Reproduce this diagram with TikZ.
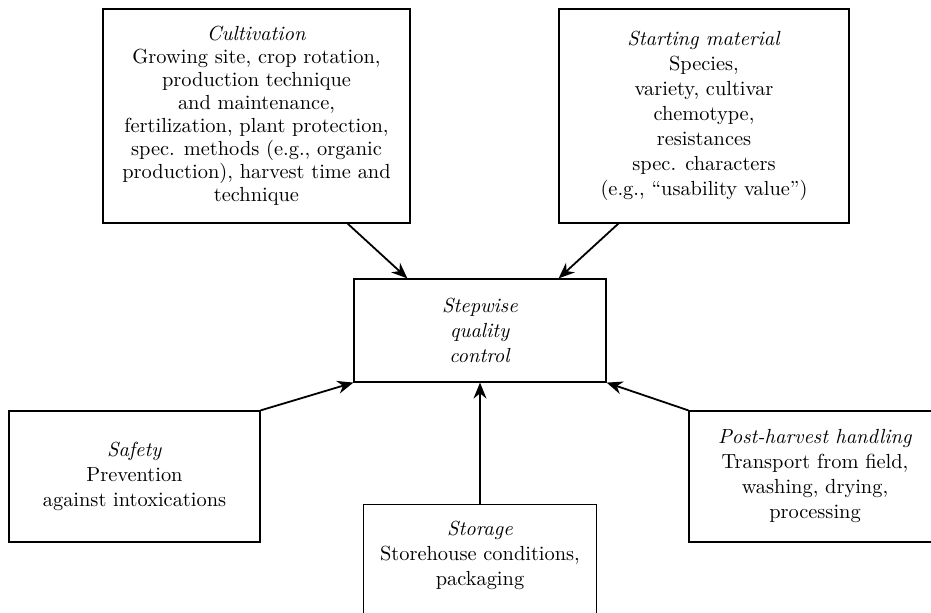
\documentclass[tikz,border=0pt]{standalone}
\usepackage{tikz}
\usetikzlibrary{shapes,arrows.meta,positioning,calc}

\tikzset{
  factor/.style={draw, line width=0.6pt, align=center, inner sep=0pt,
    font=\fontsize{10.2}{12.5}\selectfont},
  toctrl/.style={-{Stealth[length=8pt,width=6.5pt]}, line width=0.9pt},
}

\begin{document}
\begin{tikzpicture}[x=0.5pt, y=-0.5pt]
  \useasboundingbox (0,0) rectangle (931,613);

  % factors round the centre
  \node[factor, minimum width=153.5pt, minimum height=107pt,
        font=\fontsize{10.2}{11.5}\selectfont] (cult) at (256.5,116)
    {\textit{Cultivation}\\ Growing site, crop rotation,\\ production technique\\
     and maintenance,\\ fertilization, plant protection,\\ spec. methods (e.g., organic\\
     production), harvest time and\\ technique};
  \node[factor, minimum width=145pt, minimum height=107pt] (start) at (704,116)
    {\textit{Starting material}\\ Species,\\ variety, cultivar\\ chemotype,\\
     resistances\\ spec. characters\\ (e.g., ``usability value'')};
  \node[factor, minimum width=126pt, minimum height=51.5pt] (ctrl) at (480,330.5)
    {\textit{Stepwise}\\ \textit{quality}\\ \textit{control}};
  \node[factor, minimum width=125.5pt, minimum height=65.5pt] (safety) at (134.5,476.5)
    {\textit{Safety}\\ Prevention\\ against intoxications};
  \node[factor, minimum width=126pt, minimum height=65.5pt] (post) at (815,476.5)
    {\textit{Post-harvest handling}\\ Transport from field,\\ washing, drying,\\ processing};
  \node[factor, anchor=north, minimum width=116.5pt, inner ysep=8.5pt, text depth=60pt]
    (stor) at (480,504)
    {\textit{Storage}\\ Storehouse conditions,\\ packaging};

  % arrows into the centre
  \draw[toctrl] ([xshift=-31.5pt]cult.south east) -- ([xshift=27pt]ctrl.north west);
  \draw[toctrl] ([xshift=30pt]start.south west) -- ([xshift=-24pt]ctrl.north east);
  \draw[toctrl] (safety.north east) -- (ctrl.south west);
  \draw[toctrl] (post.north west) -- (ctrl.south east);
  \draw[toctrl] (stor.north) -- (ctrl.south);

\end{tikzpicture}
\end{document}
